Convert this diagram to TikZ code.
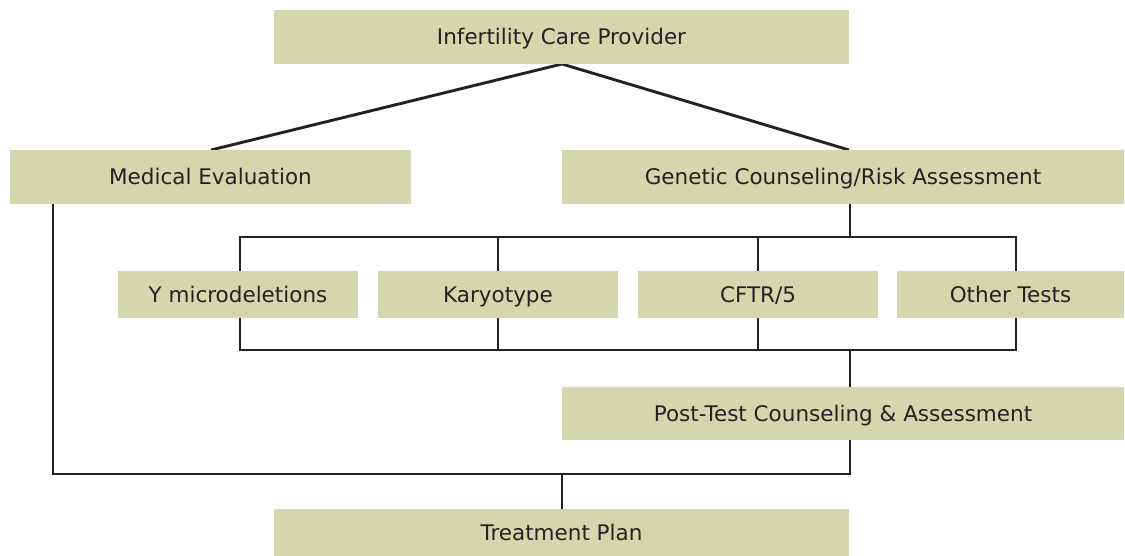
\documentclass[tikz,border=0pt]{standalone}
\usepackage{fontspec}
\setmainfont{DejaVu Sans}
\definecolor{boxfill}{HTML}{D4D6AD}
\definecolor{txt}{HTML}{222222}
\definecolor{ln}{HTML}{222222}
\begin{document}
\begin{tikzpicture}[x=1pt,y=-1pt,
  box/.style={fill=boxfill,draw=none,inner sep=0pt,text=txt,
    font=\fontsize{21.5}{25}\selectfont,text height=15.7pt,text depth=0pt},
  conn/.style={draw=ln,line width=2.9pt}]
\useasboundingbox (0,0) rectangle (1125,556);
% coordinates for connectors
\coordinate (apex) at (562,64);
\coordinate (medtop) at (211,150);
\coordinate (gentop) at (849,150);
\coordinate (genbot) at (850,204);
\coordinate (busA) at (850,237);
\coordinate (busB) at (850,350);
\coordinate (posttop) at (850,387);
\coordinate (postbot) at (850,440);
\coordinate (busC) at (850,474);
\coordinate (medbot) at (53,204);
\coordinate (medcorner) at (53,474);
\coordinate (treatjoin) at (562,474);
\coordinate (treattop) at (562,509);
\coordinate (busNW) at (240,237);
\coordinate (busSE) at (1016,350);
\coordinate (k1) at (498,237);
\coordinate (k2) at (498,350);
\coordinate (c1) at (758,237);
\coordinate (c2) at (758,350);
% connectors
\draw[conn] (medtop) -- (apex) -- (gentop);
\draw[conn] (genbot) -- (busA);
\draw[conn] (busNW) rectangle (busSE);
\draw[conn] (k1) -- (k2);
\draw[conn] (c1) -- (c2);
\draw[conn] (busB) -- (posttop);
\draw[conn] (postbot) -- (busC) -- (medcorner) -- (medbot);
\draw[conn] (treatjoin) -- (treattop);
% boxes
\node[box,minimum width=575,minimum height=54] (top) at (561.5,37) {Infertility Care Provider};
\node[box,minimum width=401,minimum height=54] (med) at (210.5,177) {Medical Evaluation};
\node[box,minimum width=562,minimum height=54] (gen) at (843,177) {Genetic Counseling/Risk Assessment};
\node[box,minimum width=562,minimum height=53] (post) at (843,413.5) {Post-Test Counseling \& Assessment};
\node[box,minimum width=575,minimum height=47] (treat) at (561.5,532.5) {Treatment Plan};
\node[box,minimum width=240,minimum height=47] (ymic) at (238,294.5) {Y microdeletions};
\node[box,minimum width=240,minimum height=47] (kary) at (498,294.5) {Karyotype};
\node[box,minimum width=240,minimum height=47] (cftr) at (758,294.5) {CFTR/5};
\node[box,minimum width=227,minimum height=47] (other) at (1010.5,294.5) {Other Tests};
\end{tikzpicture}
\end{document}
